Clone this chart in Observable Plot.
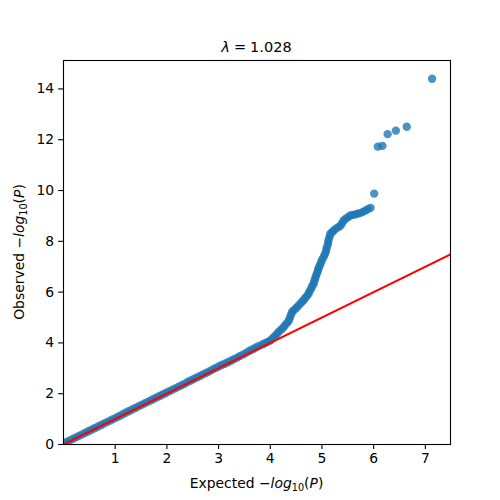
<!DOCTYPE html>
<html>
<head>
<meta charset="utf-8">
<script src="https://cdn.jsdelivr.net/npm/d3@7"></script>
<script src="https://cdn.jsdelivr.net/npm/@observablehq/plot@0.6"></script>
<style>
  body { margin: 0; background: #fff; }
  #chart svg { display: block; }
</style>
</head>
<body>
<div id="chart"></div>
<script>
// QQ plot of association p-values: expected vs observed -log10(P)
const expected = [
  0.00, 0.06, 0.12, 0.18, 0.24, 0.30, 0.36, 0.42, 0.48, 0.54,
  0.60, 0.66, 0.72, 0.78, 0.84, 0.90, 0.96, 1.02, 1.08, 1.14,
  1.20, 1.26, 1.32, 1.38, 1.44, 1.50, 1.56, 1.62, 1.68, 1.74,
  1.80, 1.86, 1.92, 1.98, 2.04, 2.10, 2.16, 2.22, 2.28, 2.34,
  2.40, 2.46, 2.52, 2.58, 2.64, 2.70, 2.76, 2.82, 2.88, 2.94,
  3.00, 3.06, 3.12, 3.18, 3.24, 3.30, 3.36, 3.42, 3.48, 3.54,
  3.60, 3.66, 3.72, 3.78,
  3.85, 3.90, 3.95, 4.00, 4.04, 4.09, 4.13, 4.17, 4.22, 4.26,
  4.29, 4.33, 4.36, 4.38, 4.40, 4.42, 4.45, 4.49, 4.52, 4.56,
  4.60, 4.64, 4.67, 4.71, 4.74, 4.76, 4.79, 4.81, 4.84, 4.85,
  4.87, 4.88, 4.90, 4.92, 4.93, 4.95, 4.97, 4.99, 5.01, 5.04,
  5.06, 5.08, 5.09, 5.11, 5.12, 5.13, 5.15, 5.16, 5.20, 5.23,
  5.27, 5.32, 5.36, 5.39, 5.42, 5.46, 5.51, 5.55, 5.60, 5.65,
  5.69, 5.74, 5.79, 5.84, 5.89, 5.94,
  6.01, 6.08, 6.17, 6.27, 6.43, 6.64, 7.13
];
const observed = [
  0.04, 0.10, 0.16, 0.22, 0.28, 0.34, 0.40, 0.46, 0.52, 0.58,
  0.64, 0.70, 0.76, 0.82, 0.88, 0.94, 1.00, 1.06, 1.12, 1.18,
  1.25, 1.31, 1.37, 1.43, 1.49, 1.55, 1.61, 1.67, 1.73, 1.79,
  1.85, 1.91, 1.97, 2.03, 2.09, 2.15, 2.21, 2.27, 2.33, 2.39,
  2.46, 2.52, 2.58, 2.64, 2.70, 2.76, 2.82, 2.88, 2.95, 3.01,
  3.07, 3.13, 3.18, 3.24, 3.30, 3.36, 3.42, 3.49, 3.55, 3.62,
  3.69, 3.75, 3.82, 3.88,
  3.94, 3.99, 4.04, 4.09, 4.18, 4.27, 4.36, 4.45, 4.54, 4.62,
  4.71, 4.80, 4.88, 4.99, 5.10, 5.21, 5.28, 5.35, 5.41, 5.50,
  5.59, 5.67, 5.76, 5.85, 5.93, 6.03, 6.13, 6.23, 6.33, 6.43,
  6.53, 6.62, 6.72, 6.82, 6.92, 7.01, 7.11, 7.21, 7.31, 7.41,
  7.51, 7.62, 7.74, 7.85, 7.96, 8.07, 8.19, 8.30, 8.37, 8.43,
  8.50, 8.56, 8.62, 8.72, 8.82, 8.89, 8.96, 9.02, 9.04, 9.06,
  9.09, 9.11, 9.16, 9.21, 9.27, 9.32,
  9.88, 11.73, 11.76, 12.22, 12.36, 12.51, 14.40
];
const xTicks = [1, 2, 3, 4, 5, 6, 7];
const yTicks = [0, 2, 4, 6, 8, 10, 12, 14];
const lambdaText = "1.028";
// axis limits: 5% headroom past the largest expected / observed values
const xLimit = 7.13 * 1.05;
const yLimit = 14.40 * 1.05;
// the y = x reference line spans the full x range
const diagonal = [0, xLimit];

const points = expected.map((e, i) => ({expected: e, observed: observed[i]}));

const W = 500, H = 500;
const mL = 63, mR = 50, mT = 60, mB = 56;
const font = "DejaVu Sans, Liberation Sans, sans-serif";

const chart = Plot.plot({
  width: W,
  height: H,
  marginLeft: mL,
  marginRight: mR,
  marginTop: mT,
  marginBottom: mB,
  style: {fontFamily: font, fontSize: "13.9px", color: "#000", background: "#fff", overflow: "visible"},
  x: {domain: [0, xLimit]},
  y: {domain: [0, yLimit]},
  marks: [
    Plot.dot(points, {x: "expected", y: "observed", r: 4.17, fill: "#1f77b4", fillOpacity: 0.8, stroke: "none", clip: true}),
    Plot.line(diagonal, {x: d => d, y: d => d, stroke: "red", strokeWidth: 2, clip: true}),
    Plot.frame({stroke: "#000", strokeWidth: 1.1}),
    Plot.axisX({ticks: xTicks, tickSize: 4.9, tickPadding: 4, tickFormat: d => String(d), label: null, strokeWidth: 1.1}),
    Plot.axisY({ticks: yTicks, tickSize: 4.9, tickPadding: 4.5, tickFormat: d => String(d), label: null, strokeWidth: 1.1})
  ]
});

document.getElementById("chart").appendChild(chart);

const svg = d3.select(chart);
const cx = mL + (W - mL - mR) / 2;
const cy = mT + (H - mT - mB) / 2;

// title: λ = 1.028, with math-style spacing around the equals sign
const title = svg.append("text")
  .attr("x", cx).attr("y", 52)
  .attr("text-anchor", "middle")
  .attr("font-family", font).attr("font-size", 14.5).attr("fill", "#000");
title.append("tspan").attr("font-style", "italic").text("λ");
title.append("tspan").attr("dx", 4).text("=");
title.append("tspan").attr("dx", 4).text(lambdaText);

// axis label with a math-style −log10(P)
function mathLabel(sel, prefix) {
  sel.append("tspan").text(prefix + "\u2212");
  sel.append("tspan").attr("font-style", "italic").text("log");
  sel.append("tspan").attr("font-size", 9.7).attr("dy", 3).text("10");
  sel.append("tspan").attr("dy", -3).text("(");
  sel.append("tspan").attr("font-style", "italic").text("P");
  sel.append("tspan").text(")");
}

const xLabel = svg.append("text")
  .attr("x", cx).attr("y", 488)
  .attr("text-anchor", "middle")
  .attr("font-family", font).attr("font-size", 13.9).attr("fill", "#000");
mathLabel(xLabel, "Expected ");

const yLabel = svg.append("text")
  .attr("transform", `translate(23.5,${cy}) rotate(-90)`)
  .attr("text-anchor", "middle")
  .attr("font-family", font).attr("font-size", 13.9).attr("fill", "#000");
mathLabel(yLabel, "Observed ");
</script>
</body>
</html>
